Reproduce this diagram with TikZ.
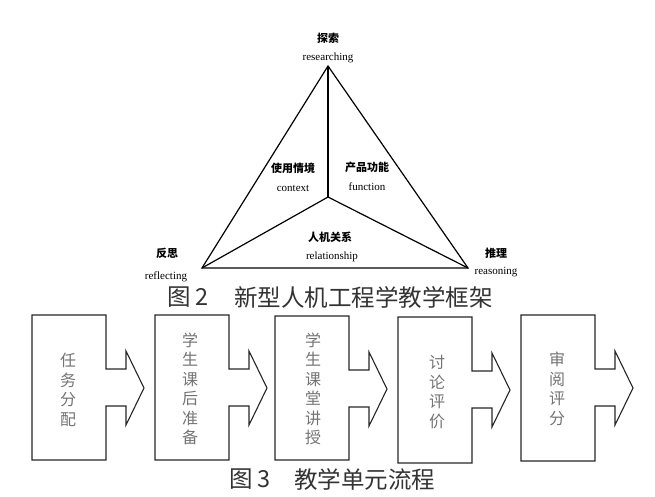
\documentclass[tikz,border=0pt]{standalone}
\usepackage{fontspec}
\setmainfont{Liberation Serif}
\newfontfamily\cjk{Noto Sans CJK SC}
\tikzset{
  edge/.style={draw=black, line width=1.2pt, line join=miter},
  flowbox/.style={draw=black!85, line width=1.1pt, line join=miter},
  zh/.style={font=\cjk\bfseries\fontsize{11}{13}\selectfont, inner sep=0pt},
  en/.style={font=\fontsize{11}{13}\selectfont, inner sep=0pt},
  vtext/.style={font=\cjk\fontsize{16}{19.5}\selectfont, text=black!55, align=center, inner sep=0pt},
  captext/.style={font=\cjk\fontsize{23.5}{26}\selectfont, text=black!80, inner sep=0pt, anchor=west}
}
\begin{document}
\begin{tikzpicture}[x=1pt,y=-1pt]
\useasboundingbox (0,0) rectangle (655,496);
% triangle
\coordinate (top) at (328,66);
\coordinate (bl) at (202,268);
\coordinate (br) at (468,268);
\coordinate (ctr) at (328,197);
\draw[edge] (top) -- (bl) -- (br) -- cycle;
\draw[edge] (top) -- (ctr);
\draw[edge] (ctr) -- (bl);
\draw[edge] (ctr) -- (br);
% labels
\node[zh] (tz) at (328,38) {探索};
\node[en] (te) at (328,58) {researching};
\node[zh] (lz) at (293,168) {使用情境};
\node[en] (le) at (293,188) {context};
\node[zh] (rz) at (367,167) {产品功能};
\node[en] (re) at (367,187) {function};
\node[zh] (bz) at (330,237) {人机关系};
\node[en] (be) at (332,257) {relationship};
\node[zh] (fz) at (167,253) {反思};
\node[en] (fe) at (166,277) {reflecting};
\node[zh] (sz) at (496,253) {推理};
\node[en] (se) at (496,272) {reasoning};
% caption 2
\node[captext] (c2a) at (167,297) {图 2};
\node[captext] (c2b) at (234,297) {新型人机工程学教学框架};
% flow boxes
\foreach \L/\T/\B/\dy in {32/315/460/0, 155/315/460/0, 275/316/460/1, 398/317/463/2, 521/315/461/0}{
  \pgfmathsetmacro{\R}{\L+74}
  \pgfmathsetmacro{\N}{\L+94}
  \pgfmathsetmacro{\P}{\L+112}
  \draw[flowbox] (\L,\T) -- (\R,\T) -- (\R,369+\dy) -- (\N,369+\dy) -- (\N,351+\dy)
     -- (\P,388+\dy) -- (\N,425+\dy) -- (\N,406+\dy) -- (\R,406+\dy) -- (\R,\B) -- (\L,\B) -- cycle;
}
\node[vtext] (f1) at (68,390) {任\\务\\分\\配};
\node[vtext] (f2) at (190,389) {学\\生\\课\\后\\准\\备};
\node[vtext] (f3) at (313,389) {学\\生\\课\\堂\\讲\\授};
\node[vtext] (f4) at (437,392) {讨\\论\\评\\价};
\node[vtext] (f5) at (557,389) {审\\阅\\评\\分};
% caption 3
\node[captext] (c3a) at (229,479) {图 3};
\node[captext] (c3b) at (294,479) {教学单元流程};
\end{tikzpicture}
\end{document}
